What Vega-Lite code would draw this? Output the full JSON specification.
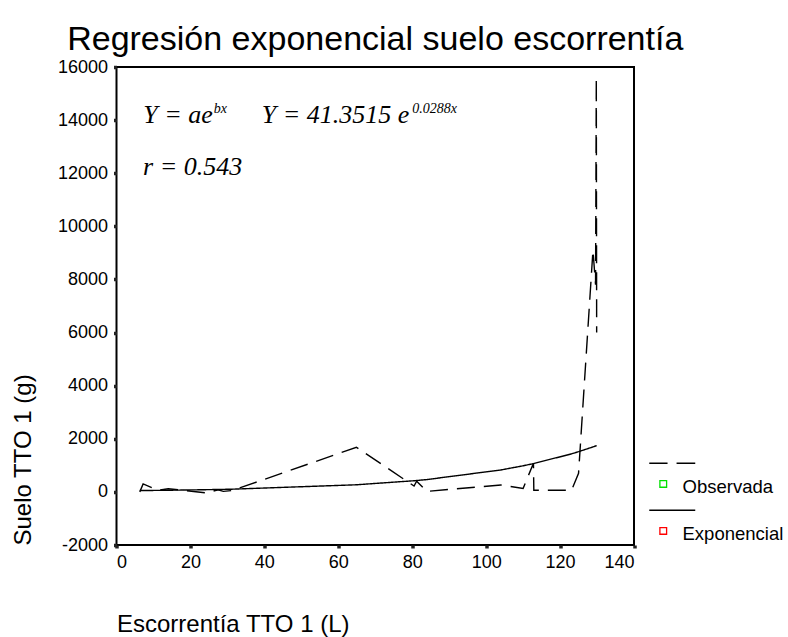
{
  "$schema": "https://vega.github.io/schema/vega-lite/v6.json",
  "width": 517.5,
  "height": 478,
  "autosize": {"type": "none"},
  "padding": {"left": 116.5, "top": 67, "right": 154, "bottom": 92},
  "background": "white",
  "title": {
    "text": "Regresión exponencial suelo escorrentía",
    "font": "Liberation Sans",
    "fontSize": 34,
    "fontWeight": "normal",
    "color": "black",
    "anchor": "middle",
    "baseline": "alphabetic",
    "offset": -26
  },
  "config": {
    "view": {"stroke": "black", "strokeWidth": 2},
    "axis": {
      "labelFont": "Liberation Sans",
      "labelFontSize": 18,
      "labelColor": "black",
      "titleFont": "Liberation Sans",
      "titleFontSize": 24,
      "titleFontWeight": "normal",
      "titleColor": "black",
      "grid": false,
      "domain": false,
      "tickColor": "#222",
      "tickSize": 3,
      "tickWidth": 3.5
    }
  },
  "layer": [
    {
      "data": {
        "values": [
          {"serie": "Observada", "x": 6.3, "y": 0},
          {"serie": "Observada", "x": 7.2, "y": 300},
          {"serie": "Observada", "x": 11.3, "y": 60},
          {"serie": "Observada", "x": 14.0, "y": 120},
          {"serie": "Observada", "x": 16.7, "y": 80},
          {"serie": "Observada", "x": 24.4, "y": -40},
          {"serie": "Observada", "x": 27.5, "y": 80},
          {"serie": "Observada", "x": 28.9, "y": 20},
          {"serie": "Observada", "x": 31.3, "y": 50},
          {"serie": "Observada", "x": 64.9, "y": 1680},
          {"serie": "Observada", "x": 80.5, "y": 220},
          {"serie": "Observada", "x": 81.2, "y": 400},
          {"serie": "Observada", "x": 84.0, "y": 20},
          {"serie": "Observada", "x": 104.0, "y": 260},
          {"serie": "Observada", "x": 110.0, "y": 130},
          {"serie": "Observada", "x": 112.8, "y": 1080},
          {"serie": "Observada", "x": 112.9, "y": 60},
          {"serie": "Observada", "x": 123.1, "y": 60},
          {"serie": "Observada", "x": 125.0, "y": 700},
          {"serie": "Observada", "x": 128.9, "y": 9100},
          {"serie": "Observada", "x": 129.6, "y": 7800},
          {"serie": "Observada", "x": 129.8, "y": 15600},
          {"serie": "Observada", "x": 129.9, "y": 6000},
          {"serie": "Exponencial", "x": 6.3, "y": 49.6},
          {"serie": "Exponencial", "x": 7.2, "y": 50.9},
          {"serie": "Exponencial", "x": 11.3, "y": 57.3},
          {"serie": "Exponencial", "x": 14.0, "y": 61.9},
          {"serie": "Exponencial", "x": 16.7, "y": 66.9},
          {"serie": "Exponencial", "x": 24.4, "y": 83.5},
          {"serie": "Exponencial", "x": 27.5, "y": 91.3},
          {"serie": "Exponencial", "x": 28.9, "y": 95.1},
          {"serie": "Exponencial", "x": 31.3, "y": 101.9},
          {"serie": "Exponencial", "x": 64.9, "y": 268.1},
          {"serie": "Exponencial", "x": 80.5, "y": 420.1},
          {"serie": "Exponencial", "x": 81.2, "y": 428.7},
          {"serie": "Exponencial", "x": 84.0, "y": 464.7},
          {"serie": "Exponencial", "x": 104.0, "y": 826.6},
          {"serie": "Exponencial", "x": 110.0, "y": 982.5},
          {"serie": "Exponencial", "x": 112.8, "y": 1065.0},
          {"serie": "Exponencial", "x": 112.9, "y": 1068.1},
          {"serie": "Exponencial", "x": 123.1, "y": 1432.6},
          {"serie": "Exponencial", "x": 125.0, "y": 1513.4},
          {"serie": "Exponencial", "x": 128.9, "y": 1693.3},
          {"serie": "Exponencial", "x": 129.6, "y": 1727.7},
          {"serie": "Exponencial", "x": 129.8, "y": 1737.7},
          {"serie": "Exponencial", "x": 129.9, "y": 1742.7}
        ]
      },
      "mark": {"type": "line", "strokeWidth": 1.4, "color": "black"},
      "encoding": {
        "x": {
          "field": "x",
          "type": "quantitative",
          "scale": {"domain": [0, 140], "nice": false, "zero": false},
          "axis": {
            "title": "Escorrentía TTO 1 (L)",
            "values": [0, 20, 40, 60, 80, 100, 120, 140],
            "labelExpr": "'' + datum.value",
            "titleAnchor": "start",
            "titleAlign": "left",
            "titlePadding": 41,
            "labelPadding": 5
          }
        },
        "y": {
          "field": "y",
          "type": "quantitative",
          "scale": {"domain": [-2000, 16000], "nice": false, "zero": false},
          "axis": {
            "title": "Suelo TTO 1 (g)",
            "values": [-2000, 0, 2000, 4000, 6000, 8000, 10000, 12000, 14000, 16000],
            "labelExpr": "'' + datum.value",
            "titleAnchor": "start",
            "titlePadding": 22,
            "labelPadding": 6
          }
        },
        "strokeDash": {
          "field": "serie",
          "type": "nominal",
          "scale": {"domain": ["Observada", "Exponencial"], "range": [[18, 9], [1, 0]]},
          "legend": null
        }
      }
    },
    {
      "data": {
        "values": [
          {"label": "Y = ae", "x": 7.25, "y": 13880},
          {"label": "Y = 41.3515 e", "x": 39.3, "y": 13880},
          {"label": "r = 0.543", "x": 7.2, "y": 11930}
        ]
      },
      "mark": {
        "type": "text",
        "align": "left",
        "baseline": "alphabetic",
        "font": "Liberation Serif",
        "fontStyle": "italic",
        "fontSize": 26,
        "color": "black"
      },
      "encoding": {
        "x": {"field": "x", "type": "quantitative"},
        "y": {"field": "y", "type": "quantitative"},
        "text": {"field": "label"}
      }
    },
    {
      "data": {
        "values": [
          {"label": "bx", "x": 26.3, "y": 14250},
          {"label": "0.0288x", "x": 80.0, "y": 14250}
        ]
      },
      "mark": {
        "type": "text",
        "align": "left",
        "baseline": "alphabetic",
        "font": "Liberation Serif",
        "fontStyle": "italic",
        "fontSize": 14,
        "color": "black"
      },
      "encoding": {
        "x": {"field": "x", "type": "quantitative"},
        "y": {"field": "y", "type": "quantitative"},
        "text": {"field": "label"}
      }
    },
    {
      "data": {
        "values": [
          {"k": "d"},
          {"k": "Observada"},
          {"k": "s"},
          {"k": "Exponencial"}
        ]
      },
      "transform": [{"filter": "false"}],
      "mark": {"type": "point", "filled": false, "opacity": 1, "strokeWidth": 1.3},
      "encoding": {
        "shape": {
          "field": "k",
          "type": "nominal",
          "scale": {
            "domain": ["d", "Observada", "s", "Exponencial"],
            "range": [
              "M-4.17,0H1.28M3.97,0H9.54",
              "M-1,-2H1V0H-1Z",
              "M-4.17,0H9.54",
              "M-1,-2H1V0H-1Z"
            ]
          },
          "legend": {
            "title": null,
            "orient": "none",
            "legendX": 537.5,
            "legendY": 387,
            "labelFont": "Liberation Sans",
            "labelFontSize": 18.5,
            "labelColor": "black",
            "labelOffset": 10,
            "symbolSize": 45,
            "symbolStrokeWidth": 1.3,
            "rowPadding": 4,
            "labelExpr": "datum.label == 'Observada' || datum.label == 'Exponencial' ? datum.label : ''"
          }
        },
        "color": {
          "field": "k",
          "type": "nominal",
          "scale": {
            "domain": ["d", "Observada", "s", "Exponencial"],
            "range": ["black", "#00e000", "black", "#ff0000"]
          },
          "legend": {
            "title": null,
            "orient": "none",
            "legendX": 537.5,
            "legendY": 387,
            "labelFont": "Liberation Sans",
            "labelFontSize": 18.5,
            "labelColor": "black",
            "labelOffset": 10,
            "symbolSize": 45,
            "symbolStrokeWidth": 1.3,
            "rowPadding": 4,
            "labelExpr": "datum.label == 'Observada' || datum.label == 'Exponencial' ? datum.label : ''"
          }
        }
      }
    }
  ]
}
